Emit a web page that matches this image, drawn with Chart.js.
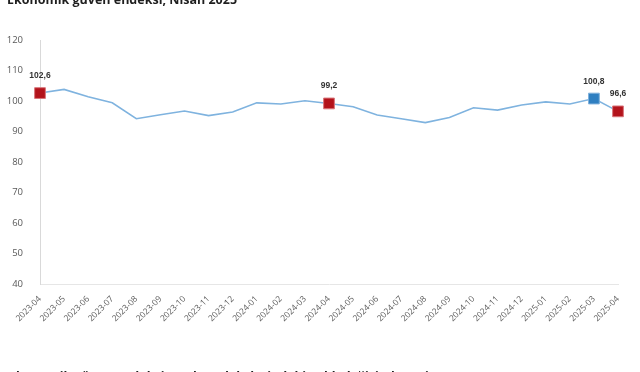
<!DOCTYPE html>
<html>
<head>
<meta charset="utf-8">
<script src="https://cdn.jsdelivr.net/npm/chart.js@4/dist/chart.umd.min.js"></script>
<style>
  html, body { margin: 0; padding: 0; background: #fff; }
  #wrap { position: relative; width: 640px; height: 372px; overflow: hidden; }
  canvas { display: block; }
</style>
</head>
<body>
<div id="wrap"><canvas id="guvenChart" width="640" height="372"></canvas></div>
<script>
// --- DATA ---
const months = ['2023-04', '2023-05', '2023-06', '2023-07', '2023-08', '2023-09', '2023-10', '2023-11', '2023-12',
  '2024-01', '2024-02', '2024-03', '2024-04', '2024-05', '2024-06', '2024-07', '2024-08', '2024-09', '2024-10',
  '2024-11', '2024-12', '2025-01', '2025-02', '2025-03', '2025-04'];
const indexValues = [102.6, 103.8, 101.4, 99.4, 94.2, 95.5, 96.7, 95.2, 96.4,
  99.4, 99.0, 100.1, 99.2, 98.1, 95.4, 94.2, 92.9, 94.6, 97.8,
  97.0, 98.7, 99.7, 99.0, 100.8, 96.6];
const yTicks = [40, 50, 60, 70, 80, 90, 100, 110, 120];
const redPoints = ['2023-04', '2024-04', '2025-04'];
const bluePoints = ['2025-03'];

const TITLE = 'Ekonomik güven endeksi, Nisan 2025';
const NEXT_TITLE = 'Ekonomik güven endeksi ve alt endekslerindeki aylık değişimler, Nisan 2025';

const LINE_COLOR = '#7fb3df';
const RED = '#b3131b';
const BLUE = '#2f7fc1';
const TICK_COLOR = '#595959';

const pointColors = months.map(m => redPoints.includes(m) ? RED : (bluePoints.includes(m) ? BLUE : LINE_COLOR));
const pointBorders = months.map(m => redPoints.includes(m) ? '#d9767b' : (bluePoints.includes(m) ? '#7fb0db' : LINE_COLOR));
const pointSizes = months.map(m => (redPoints.includes(m) || bluePoints.includes(m)) ? 7.6 : 0);

// texts on top and bottom of the picture + value labels over markers
const textPlugin = {
    id: 'textPlugin',
    afterDatasetsDraw(chart) {
        const ctx = chart.ctx;
        ctx.save();
        ctx.fillStyle = '#1f1f1f';
        ctx.font = 'bold 12.5px "Open Sans"';
        ctx.textAlign = 'left';
        ctx.textBaseline = 'alphabetic';
        ctx.fillText(TITLE, 7, 4);
        ctx.fillText(NEXT_TITLE, 9, 381);

        const meta = chart.getDatasetMeta(0);
        ctx.font = 'bold 8.5px "Liberation Sans"';
        ctx.fillStyle = '#333';
        ctx.textAlign = 'center';
        months.forEach((m, i) => {
            if (pointSizes[i] === 0) return;
            const p = meta.data[i];
            ctx.fillText(indexValues[i].toFixed(1).replace('.', ','), p.x, p.y - 15);
        });
        ctx.restore();
    }
};

const ctx = document.getElementById('guvenChart').getContext('2d');
const guvenChart = new Chart(ctx, {
    type: 'line',
    data: {
        labels: months,
        datasets: [{
            data: indexValues,
            borderColor: LINE_COLOR,
            borderWidth: 1.6,
            tension: 0,
            fill: false,
            pointStyle: 'rect',
            pointRadius: pointSizes,
            pointHoverRadius: pointSizes,
            pointBackgroundColor: pointColors,
            pointBorderColor: pointBorders,
            pointBorderWidth: 1
        }]
    },
    options: {
        responsive: false,
        animation: false,
        layout: { padding: { top: 40, right: 22, left: 0, bottom: 38 } },
        plugins: { legend: { display: false }, tooltip: { enabled: false } },
        scales: {
            x: {
                offset: false,
                afterFit: s => { s.height = 50; },
                grid: { display: false },
                border: { display: true, color: '#e6e6e6', width: 1 },
                ticks: {
                    color: TICK_COLOR, font: { family: 'Open Sans', size: 8.5 },
                    autoSkip: false, maxRotation: 45, minRotation: 45, padding: 2
                }
            },
            y: {
                min: 40, max: 120,
                afterFit: s => { s.width = 40; },
                afterBuildTicks: s => { s.ticks = yTicks.map(v => ({ value: v })); },
                grid: { display: false },
                border: { display: true, color: '#d9d9d9', width: 1, dash: [2, 2] },
                ticks: { color: TICK_COLOR, font: { family: 'Open Sans', size: 9.5 }, padding: 9 }
            }
        }
    },
    plugins: [textPlugin]
});
</script>
</body>
</html>
